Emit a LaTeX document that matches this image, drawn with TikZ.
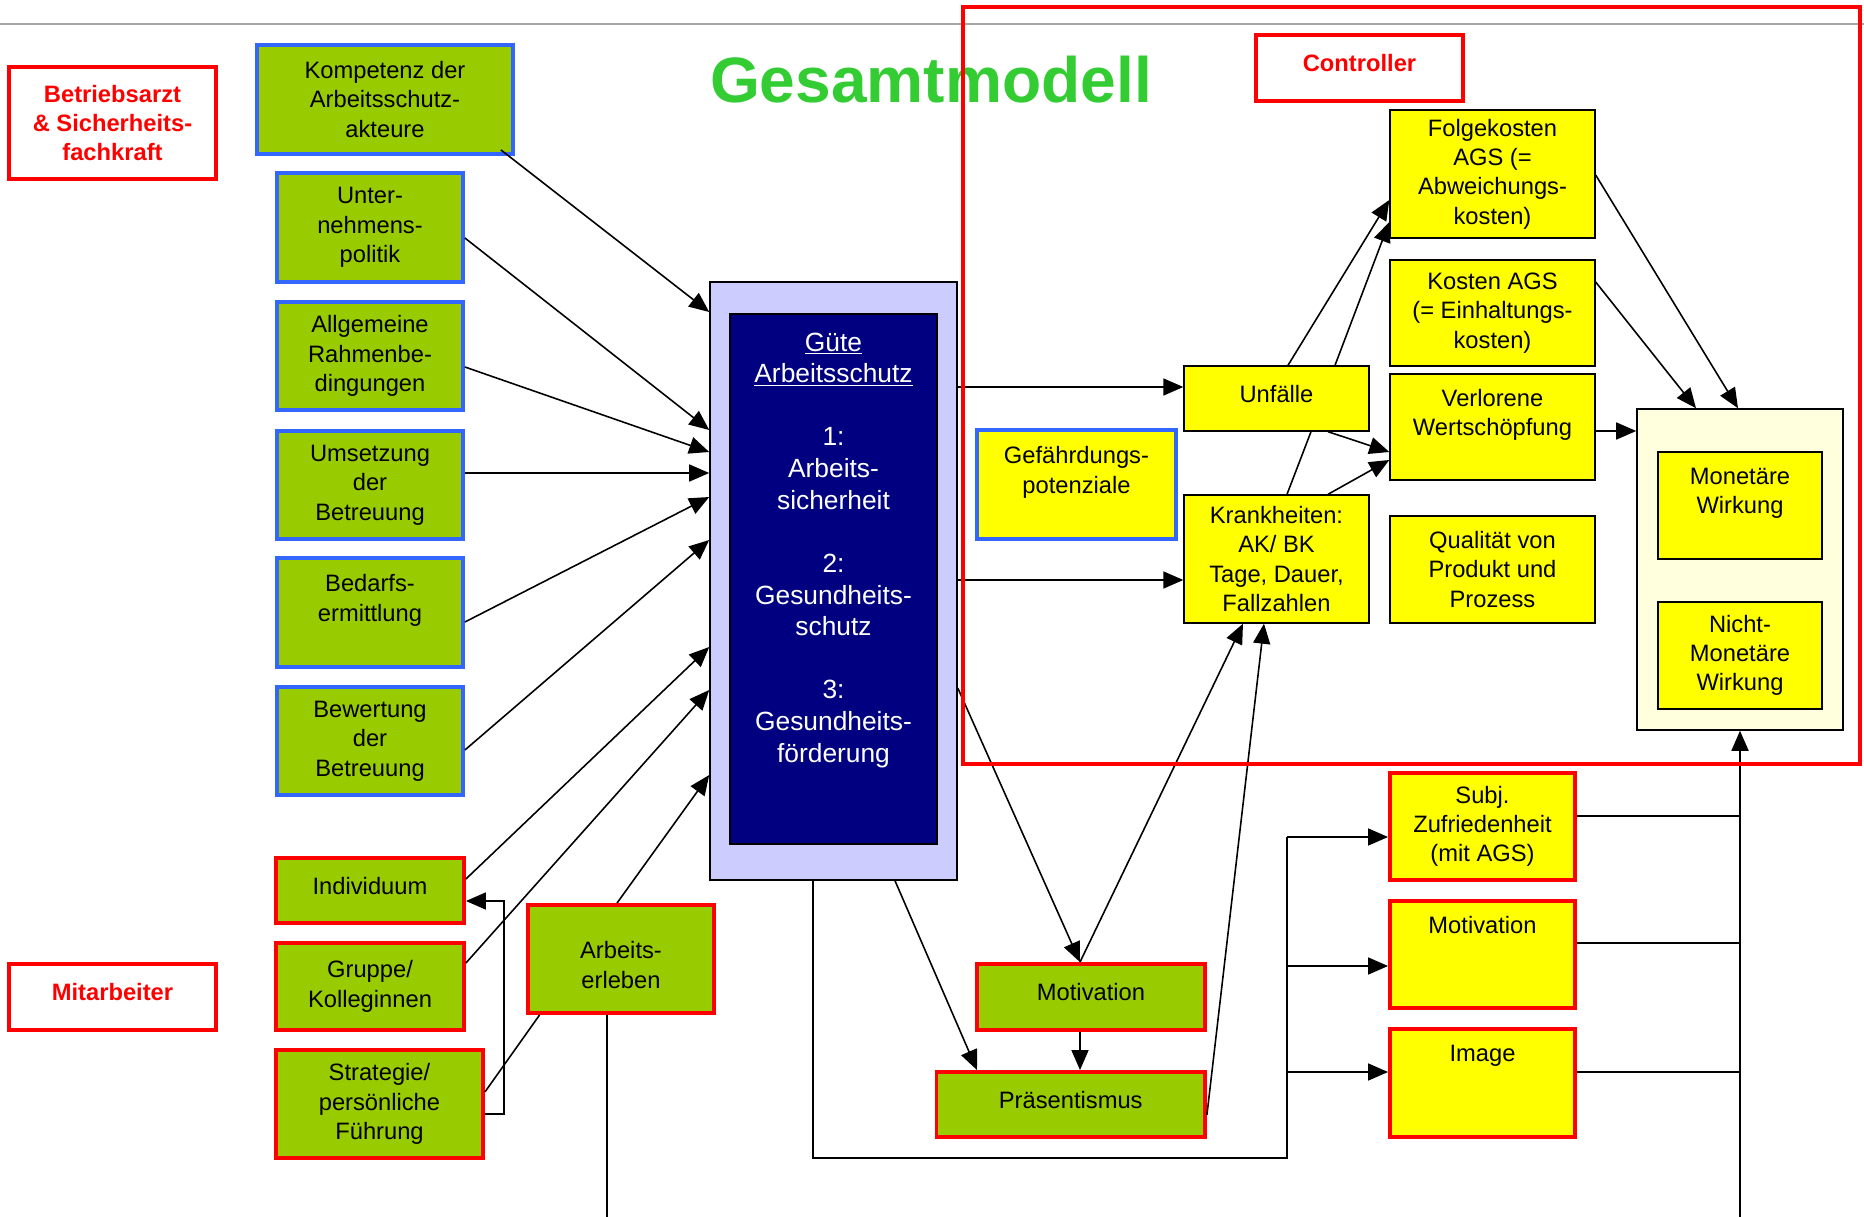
\documentclass[tikz,border=0pt]{standalone}
\usepackage{fontspec}
\setmainfont{Liberation Sans}
\usetikzlibrary{arrows.meta}
\definecolor{boxgreen}{HTML}{99CC00}
\definecolor{boxblue}{HTML}{3366FF}
\definecolor{boxred}{HTML}{FF0000}
\definecolor{boxyellow}{HTML}{FFFF00}
\definecolor{guetenavy}{HTML}{000080}
\definecolor{lavender}{HTML}{CCCCFF}
\definecolor{paleyellow}{HTML}{FFFFDD}
\definecolor{titlegreen}{HTML}{33CC33}
\begin{document}
\begin{tikzpicture}[x=0.02cm, y=-0.02cm,
    every node/.style={font=\fontsize{13.5}{16.7}\selectfont, align=center, inner sep=0pt},
    gbox/.style={draw=boxblue, fill=boxgreen, line width=2.2pt},
    rbox/.style={draw=boxred, fill=boxgreen, line width=2.2pt},
    ybox/.style={draw=black, fill=boxyellow, line width=0.8pt},
    rybox/.style={draw=boxred, fill=boxyellow, line width=2.2pt},
    bybox/.style={draw=boxblue, fill=boxyellow, line width=2.2pt},
    role/.style={draw=boxred, fill=white, line width=2.2pt, text=boxred, font=\fontsize{13.5}{16.4}\selectfont\bfseries},
    oneline/.style={text depth=5.5pt},
    arr/.style={-{Triangle[length=0.4cm, width=0.34cm]}, line width=0.9pt},
    link/.style={line width=0.9pt}]
    \useasboundingbox (0,0) rectangle (1864,1217);

    % Header
    \draw[black!35, line width=1.1pt] (0,24) -- (1864,24);
    \node[text=titlegreen, font=\fontsize{36.5}{40}\selectfont\bfseries] (title) at (931,80) {Gesamtmodell};

    % Left column
    \node[role, minimum width=4.14cm, minimum height=2.24cm] (arzt) at (112.5,123) {Betriebsarzt\\\& Sicherheits-\\fachkraft};
    \node[gbox, minimum width=5.12cm, minimum height=2.18cm] (kompetenz) at (385,99.5) {Kompetenz der\\Arbeitsschutz-\\akteure};
    \node[gbox, minimum width=3.72cm, minimum height=2.18cm] (unter) at (370,227.5) {Unter-\\nehmens-\\politik};
    \node[gbox, minimum width=3.72cm, minimum height=2.16cm] (rahmen) at (370,356) {Allgemeine\\Rahmenbe-\\dingungen};
    \node[gbox, minimum width=3.72cm, minimum height=2.16cm] (umsetz) at (370,485) {Umsetzung\\der\\Betreuung};
    \node[gbox, minimum width=3.72cm, minimum height=2.18cm] (bedarf) at (370,612.5) {Bedarfs-\\ermittlung\\\mbox{}};
    \node[gbox, minimum width=3.72cm, minimum height=2.16cm] (bewert) at (370,741) {Bewertung\\der\\Betreuung};
    \node[rbox, oneline, minimum width=3.76cm, minimum height=1.30cm] (indiv) at (370,890.5) {Individuum};
    \node[rbox, minimum width=3.76cm, minimum height=1.74cm] (gruppe) at (370,986.5) {Gruppe/\\Kolleginnen};
    \node[rbox, minimum width=4.14cm, minimum height=2.16cm] (strat) at (379.5,1104) {Strategie/\\persönliche\\Führung};
    \node[rbox, minimum width=3.72cm, minimum height=2.16cm] (erleben) at (621,959) {\mbox{}\\Arbeits-\\erleben};
    \node[role, oneline, minimum width=4.14cm, minimum height=1.32cm] (mitarb) at (112.5,997) {Mitarbeiter};

    % Guete Arbeitsschutz
    \node[draw=black, fill=lavender, line width=0.9pt, minimum width=4.94cm, minimum height=11.96cm] (guete) at (833.5,581) {};
    \node[draw=black, fill=guetenavy, line width=0.8pt, text=white, font=\fontsize{15}{18}\selectfont,
        minimum width=4.14cm, minimum height=10.6cm] (schutz) at (833.5,579)
        {\underline{Güte}\\\underline{Arbeitsschutz}\\\mbox{}\\1:\\Arbeits-\\sicherheit\\\mbox{}\\2:\\Gesundheits-\\schutz\\\mbox{}\\3:\\Gesundheits-\\förderung\\\mbox{}\\\mbox{}};

    % Controller side
    \node[role, oneline, minimum width=4.14cm, minimum height=1.32cm] (controller) at (1359.5,68) {Controller};
    \node[bybox, minimum width=3.98cm, minimum height=2.18cm] (gefahr) at (1076.5,484.5) {Gefährdungs-\\potenziale\\\mbox{}};
    \node[ybox, oneline, minimum width=3.70cm, minimum height=1.30cm] (unfall) at (1276.5,398.5) {Unfälle};
    \node[ybox, minimum width=3.70cm, minimum height=2.56cm] (krank) at (1276.5,559) {Krankheiten:\\AK/ BK\\Tage, Dauer,\\Fallzahlen};
    \node[ybox, minimum width=4.10cm, minimum height=2.56cm] (folge) at (1492.5,174) {Folgekosten\\AGS (=\\Abweichungs-\\kosten)};
    \node[ybox, minimum width=4.10cm, minimum height=2.12cm] (kosten) at (1492.5,313) {Kosten AGS\\(= Einhaltungs-\\kosten)};
    \node[ybox, minimum width=4.10cm, minimum height=2.12cm] (verlor) at (1492.5,427) {Verlorene\\Wertschöpfung\\\mbox{}};
    \node[ybox, minimum width=4.10cm, minimum height=2.14cm] (qualit) at (1492.5,569.5) {Qualität von\\Produkt und\\Prozess};
    \node[draw=black, fill=paleyellow, line width=0.9pt, minimum width=4.12cm, minimum height=6.42cm] (wirkung) at (1740,569.5) {};
    \node[ybox, minimum width=3.28cm, minimum height=2.14cm] (monetaer) at (1740,505.5) {Monetäre\\Wirkung\\\mbox{}};
    \node[ybox, minimum width=3.28cm, minimum height=2.14cm] (nichtmon) at (1740,655.5) {Nicht-\\Monetäre\\Wirkung};

    % Bottom right
    \node[rybox, minimum width=3.70cm, minimum height=2.14cm] (subj) at (1482.5,826.5) {Subj.\\Zufriedenheit\\(mit AGS)};
    \node[rybox, minimum width=3.70cm, minimum height=2.14cm] (motivy) at (1482.5,954.5) {Motivation\\\mbox{}\\\mbox{}};
    \node[rybox, minimum width=3.70cm, minimum height=2.16cm] (image) at (1482.5,1083) {Image\\\mbox{}\\\mbox{}};
    \node[rbox, oneline, minimum width=4.56cm, minimum height=1.32cm] (motivg) at (1091,997) {Motivation};
    \node[rbox, oneline, minimum width=5.37cm, minimum height=1.30cm] (praes) at (1070.75,1104.5) {Präsentismus};

    % Inputs into Guete
    \draw[arr] ([shift={(-14,-6)}]kompetenz.south east) -- (guete.west |- 0,312);
    \draw[arr] (unter.east |- 0,238) -- (guete.west |- 0,430);
    \draw[arr] (rahmen.east |- 0,367) -- (guete.west |- 0,452);
    \draw[arr] (umsetz.east |- 0,473) -- (guete.west |- 0,473);
    \draw[arr] (bedarf.east |- 0,622) -- (guete.west |- 0,497);
    \draw[arr] (bewert.east |- 0,750) -- (guete.west |- 0,540);
    \draw[arr] (indiv.east |- 0,879) -- (guete.west |- 0,647);
    \draw[arr] (gruppe.east |- 0,963) -- (guete.west |- 0,690);
    \draw[link] (strat.east |- 0,1092) -- (erleben.south -| 539.6,0);
    \draw[arr] (erleben.north -| 617,0) -- (guete.west |- 0,775);
    \draw[arr] (strat.east |- 0,1114) -| (504,1000) |- (indiv.east |- 0,901);
    \coordinate (bottomL) at (607,1217);
    \draw[link] (erleben.south -| bottomL) -- (bottomL);

    % Outputs of Guete
    \draw[arr] (guete.east |- 0,387) -- (unfall.west |- 0,387);
    \draw[arr] (guete.east |- 0,580) -- (krank.west |- 0,580);
    \draw[arr] (guete.east |- 0,688) -- (motivg.north -| 1080,0);
    \draw[arr] (guete.south -| 895,0) -- (praes.north -| 977,0);
    \coordinate (loopR) at (1287,1158);
    \draw[link] (guete.south -| 813,0) |- (loopR) -- (loopR |- 0,837);
    \draw[arr] (loopR |- 0,837) -- (subj.west |- 0,837);
    \draw[arr] (loopR |- 0,966) -- (motivy.west |- 0,966);
    \draw[arr] (loopR |- 0,1072) -- (image.west |- 0,1072);

    % Motivation and Praesentismus
    \draw[arr] (motivg.south -| 1080,0) -- (praes.north -| 1080,0);
    \draw[arr] (motivg.north -| 1080,0) -- (krank.south -| 1243,0);
    \draw[arr] (praes.east |- 0,1115) -- (krank.south -| 1264,0);

    % Costs
    \draw[link] (krank.north -| 1287,0) -- (unfall.south -| 1311,0);
    \draw[arr] (unfall.north -| 1335,0) -- (folge.west |- 0,222);
    \draw[arr] (unfall.north -| 1288,0) -- (folge.west |- 0,200);
    \draw[arr] (unfall.south -| 1328,0) -- (verlor.west |- 0,452);
    \draw[arr] (krank.north -| 1328,0) -- (verlor.west |- 0,460);
    \draw[arr] (folge.east |- 0,175) -- (wirkung.north -| 1738,0);
    \draw[arr] (kosten.east |- 0,282) -- (wirkung.north -| 1696,0);
    \draw[arr] (verlor.east |- 0,431) -- (wirkung.west |- 0,431);

    % Effects
    \coordinate (bottomR) at (1740,1217);
    \draw[arr] (bottomR) -- (wirkung.south);
    \draw[link] (subj.east |- 0,816) -- (bottomR |- 0,816);
    \draw[link] (motivy.east |- 0,943) -- (bottomR |- 0,943);
    \draw[link] (image.east |- 0,1072) -- (bottomR |- 0,1072);

    % Controller frame
    \draw[boxred, line width=2.8pt] (963,7) rectangle (1860,764);
\end{tikzpicture}
\end{document}
